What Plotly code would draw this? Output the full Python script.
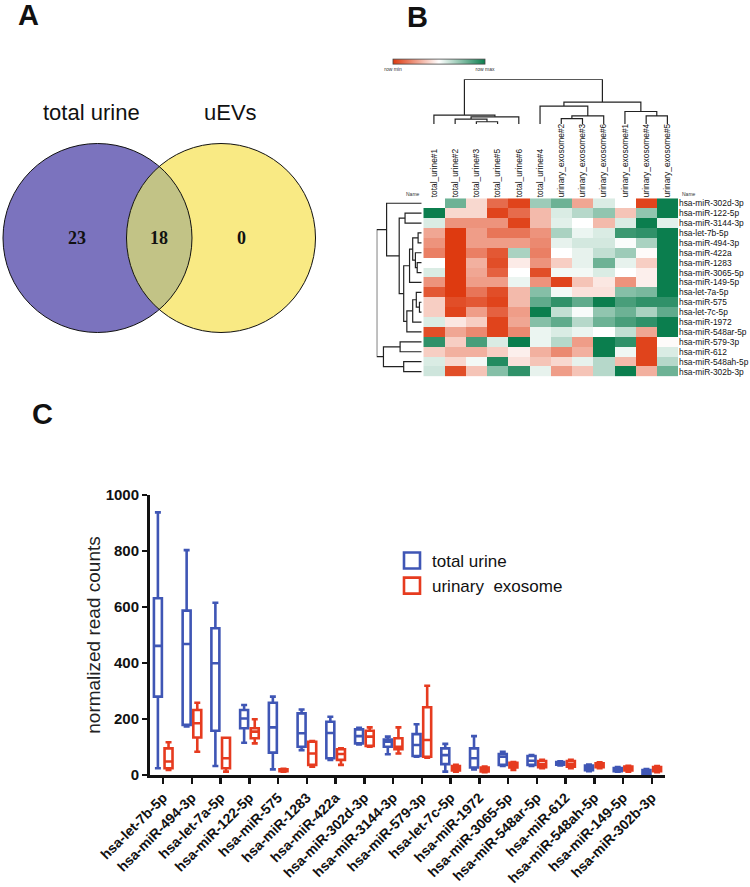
import numpy as np
import plotly.graph_objects as go

W, H = 750, 887
FONT = "Arial, Liberation Sans, sans-serif"

# ---------------- data ----------------
# Panel A (Venn)
venn_sets = ["total urine", "uEVs"]
venn_counts = [23, 18, 0]   # only total urine, shared, only uEVs

# Panel B (heatmap, row-scaled values: -1 = row min, +1 = row max)
hm_cols = ["total_urine#1", "total_urine#2", "total_urine#3", "total_urine#5",
           "total_urine#6", "total_urine#4", "urinary_exosome#2", "urinary_exosome#3",
           "urinary_exosome#6", "urinary_exosome#1", "urinary_exosome#4", "urinary_exosome#5"]
hm_rows = ["hsa-miR-302d-3p", "hsa-miR-122-5p", "hsa-miR-3144-3p", "hsa-let-7b-5p",
           "hsa-miR-494-3p", "hsa-miR-422a", "hsa-miR-1283", "hsa-miR-3065-5p",
           "hsa-miR-149-5p", "hsa-let-7a-5p", "hsa-miR-575", "hsa-let-7c-5p",
           "hsa-miR-1972", "hsa-miR-548ar-5p", "hsa-miR-579-3p", "hsa-miR-612",
           "hsa-miR-548ah-5p", "hsa-miR-302b-3p"]
hm_z = [
    [0.00, 0.60, -0.20, -0.75, -0.95, 0.40, 0.60, -0.45, 0.15, 0.00, -0.95, 1.00],
    [1.00, -0.20, -0.20, -0.95, -0.75, -0.35, 0.15, 0.30, 0.45, -0.30, 0.45, 1.00],
    [0.15, -0.55, -0.55, -0.55, -0.95, -0.35, 0.12, 0.00, -0.35, 0.15, 1.00, 0.12],
    [-0.45, -1.00, -0.50, -0.70, -0.70, -0.55, 0.35, 0.08, 0.15, 0.80, 0.85, 1.00],
    [-0.55, -1.00, -0.50, -0.50, -0.50, -0.60, 0.10, 0.18, 0.18, 0.02, 0.35, 1.00],
    [-0.65, -1.00, -0.65, -0.85, 0.35, -0.65, 0.00, 0.10, 0.25, 0.40, -0.02, 1.00],
    [0.00, -1.00, -0.40, -0.90, -0.10, -0.55, -0.25, 0.10, 0.60, 0.10, -0.25, 1.00],
    [0.15, -1.00, -0.45, -0.80, 0.00, -0.90, 0.05, 0.05, 0.15, 0.00, -0.08, 1.00],
    [-0.55, -1.00, -0.50, -0.50, 0.08, -0.55, -0.95, -0.30, -0.12, -0.55, -0.08, 1.00],
    [-0.85, -1.00, -0.70, -0.90, -0.35, 0.50, 0.05, -0.15, -0.15, 0.50, 0.55, 1.00],
    [-0.25, -0.90, -0.85, -0.95, -0.35, 0.65, 0.85, 0.65, 1.00, 0.75, 0.85, 0.85],
    [-0.25, -0.95, -0.50, -0.80, -0.50, 1.00, 0.25, 0.03, 0.45, 0.60, 0.35, 0.65],
    [0.15, -0.12, -0.25, -0.95, -0.45, 0.50, 0.65, 0.30, 0.60, 0.75, 0.85, 1.00],
    [-0.90, -0.45, -0.60, -0.95, -0.60, 0.08, 0.15, 0.08, 0.00, 0.25, -0.45, 1.00],
    [0.85, -0.25, 0.75, 0.15, 1.00, 0.08, 0.30, -0.50, 1.00, 0.85, -0.95, -0.02],
    [-0.25, -0.40, -0.40, -0.25, -0.08, -0.40, -0.60, -0.40, 1.00, 0.06, -0.95, 0.15],
    [0.15, -0.20, 0.05, 0.90, -0.15, -0.30, -0.20, 0.10, 0.30, -0.35, -0.95, 0.30],
    [0.20, -0.90, -0.30, 0.50, 0.85, 0.10, -0.50, -0.30, 0.30, 1.00, -0.40, 0.60],
]
# dendrograms: (left, right, merge height); leaves are row / column indices
row_tree = ((0, ((1, 2, 0.37),
                 ((((3, 4, 0.08), (5, (6, 7, 0.10), 0.14), 0.20), 8, 0.27),
                  (((9, (10, 11, 0.05), 0.12), 12, 0.20), 13, 0.33), 0.40), 0.50), 0.78),
            ((14, 15, 0.48), (16, 17, 0.40), 0.85), 1.0)
col_tree = ((0, ((1, (2, 3, 0.05), 0.11), 4, 0.16), 0.20),
            ((5, ((6, 7, 0.12), 8, 0.18), 0.40), (9, (10, 11, 0.18), 0.28), 0.49), 1.0)

# Panel C (box plots: lower whisker, Q1, median, Q3, upper whisker)
cats = ["hsa-let-7b-5p", "hsa-miR-494-3p", "hsa-let-7a-5p", "hsa-miR-122-5p", "hsa-miR-575",
        "hsa-miR-1283", "hsa-miR-422a", "hsa-miR-302d-3p", "hsa-miR-3144-3p", "hsa-miR-579-3p",
        "hsa-let-7c-5p", "hsa-miR-1972", "hsa-miR-3065-5p", "hsa-miR-548ar-5p", "hsa-miR-612",
        "hsa-miR-548ah-5p", "hsa-miR-149-5p", "hsa-miR-302b-3p"]
tu_low = [24, 173, 32, 115, 20, 89, 54, 109, 74, 65, 12, 20, 32, 32, 34, 14, 12, 2]
tu_q1 = [280, 179, 158, 167, 80, 101, 60, 113, 101, 68, 39, 27, 36, 36, 37, 17, 14, 4]
tu_med = [461, 468, 399, 202, 170, 149, 150, 139, 119, 107, 71, 60, 65, 51, 42, 26, 20, 12]
tu_q3 = [631, 587, 524, 232, 258, 220, 190, 163, 127, 146, 95, 95, 75, 68, 46, 34, 25, 18]
tu_high = [938, 803, 615, 250, 280, 234, 208, 169, 137, 181, 111, 139, 83, 71, 49, 37, 28, 21]
ue_low = [18, 83, 12, 113, 12, 30, 36, 101, 77, 62, 12, 10, 18, 24, 24, 24, 12, 10]
ue_q1 = [24, 134, 24, 131, 14, 36, 54, 104, 92, 65, 16, 13, 27, 28, 30, 28, 16, 14]
ue_med = [48, 185, 60, 155, 17, 77, 75, 137, 101, 125, 24, 20, 36, 38, 39, 36, 23, 22]
ue_q3 = [95, 232, 133, 167, 20, 119, 92, 158, 131, 242, 32, 27, 44, 50, 50, 42, 30, 28]
ue_high = [117, 258, 133, 199, 22, 121, 95, 170, 170, 319, 36, 30, 46, 54, 54, 45, 33, 32]
series_names = ["total urine", "urinary  exosome"]

BLUE = "#3F56B5"
RED = "#E63B1F"


def px_x(a, b):
    return [a / W, b / W]


def px_y(top, bottom):
    return [1 - bottom / H, 1 - top / H]


def dendro(node, segs):
    """returns (position, height); appends line segments (pos, height) pairs"""
    if isinstance(node, int):
        return float(node), 0.0
    left, right, h = node
    pl, hl = dendro(left, segs)
    pr, hr = dendro(right, segs)
    segs.append([(pl, hl), (pl, h), (pr, h), (pr, hr)])
    return (pl + pr) / 2.0, h


fig = go.Figure()

# ---------------- Panel C: box plots ----------------
for name, col, lo, q1, md, q3, hi in [
        (series_names[0], BLUE, tu_low, tu_q1, tu_med, tu_q3, tu_high),
        (series_names[1], RED, ue_low, ue_q1, ue_med, ue_q3, ue_high)]:
    fig.add_trace(go.Box(
        x=cats, lowerfence=lo, q1=q1, median=md, q3=q3, upperfence=hi,
        name=name, orientation="v", boxpoints=False, showlegend=False,
        line=dict(color=col, width=2.6), fillcolor="rgba(255,255,255,0)",
        whiskerwidth=0.75, xaxis="x", yaxis="y", hoverinfo="skip"))
    # legend entry with a larger open square
    fig.add_trace(go.Scatter(
        x=[None], y=[None], mode="markers", name=name, xaxis="x", yaxis="y",
        marker=dict(symbol="square-open", size=16, color=col, line=dict(width=2.6, color=col))))

# ---------------- Panel B: heatmap ----------------
fig.add_trace(go.Heatmap(
    z=hm_z, x=list(range(len(hm_cols))), y=list(range(len(hm_rows))),
    zmin=-1, zmax=1, xaxis="x2", yaxis="y2", showlegend=False, hoverinfo="skip",
    colorscale=[[0, "#DE3A10"], [0.5, "#FFFFFF"], [1, "#0B7E4E"]],
    colorbar=dict(orientation="h", x=439 / W, xanchor="center", y=1 - 64.5 / H,
                  yanchor="middle", len=92, lenmode="pixels", thickness=5,
                  thicknessmode="pixels", tickvals=[-1, 1], ticktext=["row min", "row max"],
                  tickfont=dict(size=5, family=FONT, color="#333"), ticks="",
                  outlinewidth=0.8, outlinecolor="#444", xpad=0, ypad=0)))

# row dendrogram
segs = []
dendro(row_tree, segs)
xs, ys = [], []
for s in segs:
    for p, h in s:
        xs.append(h)
        ys.append(p)
    xs.append(None)
    ys.append(None)
fig.add_trace(go.Scatter(x=xs, y=ys, mode="lines", line=dict(color="#222", width=1.2),
                         xaxis="x3", yaxis="y3", showlegend=False, hoverinfo="skip"))
# column dendrogram
segs = []
dendro(col_tree, segs)
xs, ys = [], []
for s in segs:
    for p, h in s:
        xs.append(p)
        ys.append(h)
    xs.append(None)
    ys.append(None)
fig.add_trace(go.Scatter(x=xs, y=ys, mode="lines", line=dict(color="#222", width=1.2),
                         xaxis="x4", yaxis="y4", showlegend=False, hoverinfo="skip"))

# ---------------- Panel A: Venn ----------------
c1 = (97.5, 238.0)
c2 = (221.0, 238.0)
r = 94.5
shapes = []
shapes.append(dict(type="circle", xref="x5", yref="y5", x0=c1[0] - r, x1=c1[0] + r,
                   y0=c1[1] - r, y1=c1[1] + r, fillcolor="#7B73BE", line=dict(width=0)))
shapes.append(dict(type="circle", xref="x5", yref="y5", x0=c2[0] - r, x1=c2[0] + r,
                   y0=c2[1] - r, y1=c2[1] + r, fillcolor="#F9EA84", line=dict(width=0)))
d = c2[0] - c1[0]
th = np.arccos((d / 2) / r)
t1 = np.linspace(-th, th, 60)
t2 = np.linspace(np.pi - th, np.pi + th, 60)
lx = np.concatenate([c1[0] + r * np.cos(t1), c2[0] + r * np.cos(t2)])
ly = np.concatenate([c1[1] + r * np.sin(t1), c2[1] + r * np.sin(t2)])
path = "M " + " L ".join(f"{a:.2f},{b:.2f}" for a, b in zip(lx, ly)) + " Z"
shapes.append(dict(type="path", xref="x5", yref="y5", path=path, fillcolor="#C2C386",
                   line=dict(width=0)))
for c in (c1, c2):
    shapes.append(dict(type="circle", xref="x5", yref="y5", x0=c[0] - r, x1=c[0] + r,
                       y0=c[1] - r, y1=c[1] + r, line=dict(color="#111", width=1)))

ann = []
for t, x in zip(venn_sets, [91, 230]):
    ann.append(dict(text=t, x=x, y=113, xref="x5", yref="y5", showarrow=False,
                    font=dict(family=FONT, size=22, color="#111")))
for v, x in zip(venn_counts, [77, 159, 241]):
    ann.append(dict(text=f"<b>{v}</b>", x=x, y=238, xref="x5", yref="y5", showarrow=False,
                    font=dict(family="Times New Roman, Liberation Serif, serif", size=18,
                              color="#111")))
for t, x, y in [("A", 28, 15), ("B", 417, 17), ("C", 42, 414)]:
    ann.append(dict(text=f"<b>{t}</b>", x=x / W, y=1 - y / H, xref="paper", yref="paper",
                    xanchor="center", yanchor="middle",
                    showarrow=False, font=dict(family=FONT, size=29, color="#111")))
for x, xa in [(422, "right"), (680, "left")]:
    ann.append(dict(text="Name", x=x / W, y=1 - 193.5 / H, xref="paper", yref="paper",
                    xanchor=xa, yanchor="middle", showarrow=False,
                    font=dict(family=FONT, size=5, color="#333")))

hidden = dict(visible=False, showgrid=False, zeroline=False)
fig.update_layout(
    width=W, height=H, margin=dict(l=0, r=0, t=0, b=0, pad=0, autoexpand=False),
    paper_bgcolor="white", plot_bgcolor="rgba(0,0,0,0)",
    shapes=shapes, annotations=ann,
    boxmode="group", boxgap=0.26, boxgroupgap=0.25,
    showlegend=True,
    legend=dict(x=392 / W, y=1 - 543 / H, xanchor="left", yanchor="top",
                font=dict(family=FONT, size=17, color="#111"), bgcolor="rgba(0,0,0,0)",
                tracegroupgap=0, itemwidth=30),
    xaxis=dict(domain=px_x(150, 665), range=[-0.46, len(cats) - 0.54], anchor="y",
               type="category",
               showline=True, linecolor="#111", linewidth=3, ticks="outside", ticklen=6,
               tickwidth=2.5, tickcolor="#111", tickangle=-45, showgrid=False, zeroline=False,
               automargin=False,
               tickfont=dict(family=FONT, size=14, color="#111", weight="bold")),
    yaxis=dict(domain=px_y(495, 775), range=[0, 1000], anchor="x", tickvals=[0, 200, 400, 600, 800, 1000],
               showline=True, linecolor="#111", linewidth=3, ticks="outside", ticklen=5,
               tickwidth=2.5, tickcolor="#111", showgrid=False, zeroline=False,
               automargin=False,
               tickfont=dict(family=FONT, size=15, color="#111", weight="bold"),
               title=dict(text="normalized read counts", standoff=0,
                          font=dict(family=FONT, size=19, color="#222"))),
    xaxis2=dict(domain=px_x(423.3, 678), range=[-0.5, len(hm_cols) - 0.5], anchor="y2",
                side="top", tickvals=list(range(len(hm_cols))), ticktext=hm_cols,
                tickangle=-90, ticks="", showgrid=False, zeroline=False, showline=False,
                automargin=False,
                tickfont=dict(family=FONT, size=8.4, color="#111")),
    yaxis2=dict(domain=px_y(198.3, 376.5), range=[len(hm_rows) - 0.5, -0.5], anchor="x2",
                side="right", tickvals=list(range(len(hm_rows))), ticktext=hm_rows,
                ticks="", showgrid=False, zeroline=False, showline=False,
                automargin=False,
                tickfont=dict(family=FONT, size=8.4, color="#111")),
    xaxis3=dict(domain=px_x(376.7, 421.7), range=[1.0, 0.0], anchor="y3", **hidden),
    yaxis3=dict(domain=px_y(198.3, 376.5), range=[len(hm_rows) - 0.5, -0.5], anchor="x3", **hidden),
    xaxis4=dict(domain=px_x(423.3, 678), range=[-0.5, len(hm_cols) - 0.5], anchor="y4", **hidden),
    yaxis4=dict(domain=px_y(79.3, 124), range=[0, 1], anchor="x4", **hidden),
    xaxis5=dict(domain=px_x(0, 330), range=[0, 330], anchor="y5", **hidden),
    yaxis5=dict(domain=px_y(90, 340), range=[340, 90], anchor="x5", **hidden),
)

fig.write_html("out.html",
               config={"displayModeBar": False, "staticPlot": True},
               post_script="document.body.style.margin='0px';"
                           "document.body.style.overflow='hidden';")
